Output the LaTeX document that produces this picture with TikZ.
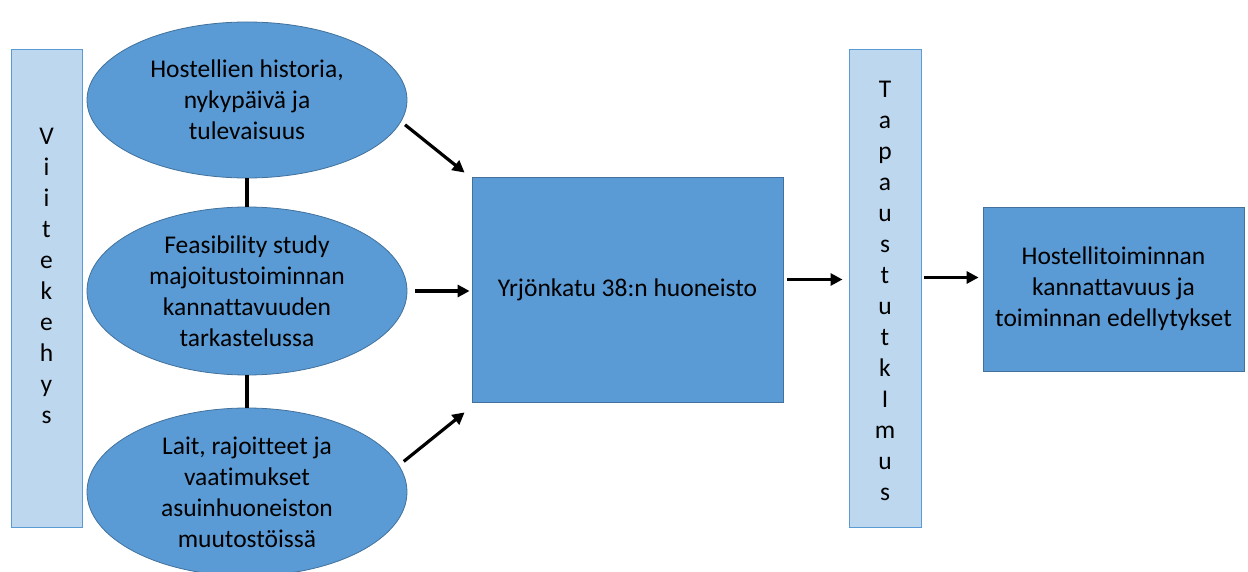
\documentclass[tikz,border=0pt]{standalone}
\usepackage{fontspec}
\setmainfont[Ligatures=NoCommon]{Carlito}
\usetikzlibrary{shapes.geometric,arrows.meta,calc}
\definecolor{mid}{HTML}{5B9BD5}
\definecolor{edge}{HTML}{41719C}
\definecolor{light}{HTML}{BDD7EE}
\begin{document}
\begin{tikzpicture}[x=1pt,y=-1pt,
  every node/.style={font=\fontsize{25.5}{31}\selectfont, align=center, inner sep=0pt},
  oval/.style={ellipse, fill=mid, draw=edge, line width=0.8pt, minimum width=320pt, minimum height=168pt},
  bar/.style={rectangle, fill=light, draw=mid, line width=1pt, minimum width=71pt, minimum height=477pt},
  blk/.style={rectangle, fill=mid, draw=edge, line width=0.8pt},
  arr/.style={line width=3.2pt, -{Triangle[length=12pt,width=12pt]}},
  link/.style={line width=3.8pt}]
\useasboundingbox (0,0) rectangle (1248,572);
\fill[white] (0,0) rectangle (1248,572);
% left bar
\node[bar] (vk) at (46.5,288.5) {};
\node (vkt) at (46.5,276) {V\\i\\i\\t\\e\\k\\e\\h\\y\\s};
% ellipses
\node[oval, minimum height=156pt] (e1) at (247,100) {Hostellien historia,\\nykypäivä ja\\tulevaisuus};
\node[oval] (e2) at (247,291) {Feasibility study\\majoitustoiminnan\\kannattavuuden\\tarkastelussa};
\node[oval] (e3) at (247,492) {Lait, rajoitteet ja\\vaatimukset\\asuinhuoneiston\\muutostöissä};
% central rectangle
\node[blk, minimum width=311pt, minimum height=225pt] (r) at (627.5,289.5) {Yrjönkatu 38:n huoneisto};
% right bar
\node[bar, minimum width=72pt] (tp) at (885,288.5) {};
\node (tpt) at (885,291) {T\\a\\p\\a\\u\\s\\t\\u\\t\\k\\I\\m\\u\\s};
% final
\node[blk, minimum width=261pt, minimum height=164pt] (f) at (1113.5,289) {Hostellitoiminnan\\kannattavuus ja\\toiminnan edellytykset};
% links
\draw[link] (e1.south) -- (e2.north);
\draw[link] (e2.south) -- (e3.north);
% arrows
\draw[arr, shorten <=5pt] (e1.-8) -- ([xshift=-7pt,yshift=4pt]r.north west);
\draw[arr, shorten <=8pt, shorten >=2pt] (e2.east) -- (e2.east -| r.west);
\draw[arr, shorten <=6pt] (e3.10) -- ([xshift=-7pt,yshift=-10pt]r.south west);
\draw[arr, shorten <=4pt, shorten >=6pt] ([yshift=10pt]r.east) -- ([yshift=10pt]r.east -| tp.west);
\draw[arr, shorten <=2pt, shorten >=4pt] ([yshift=11pt]tp.east) -- ([yshift=11pt]tp.east -| f.west);
\end{tikzpicture}
\end{document}
